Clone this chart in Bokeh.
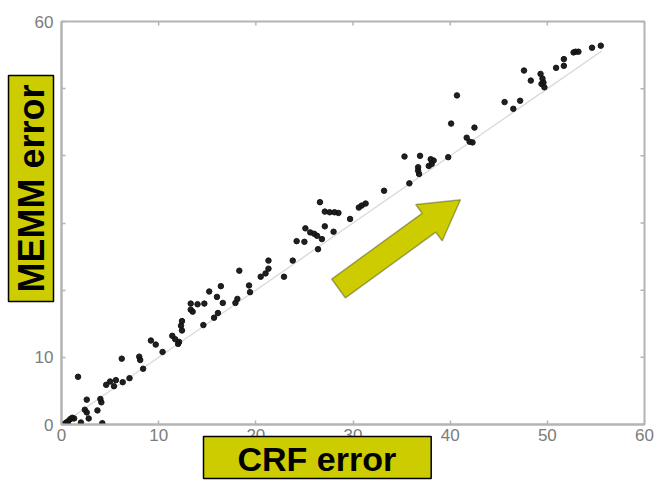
import math
from bokeh.plotting import figure
from bokeh.models import Range1d, Title, PolyAnnotation, FixedTicker
from bokeh.embed import file_html
from bokeh.resources import INLINE

# ---- data ----
crf_err = [0.3, 0.5, 0.7, 0.9, 1.1, 1.3, 0.6,
           2.0, 2.8, 4.2,
           2.4, 2.6, 2.6, 3.7,
           4.0, 4.1,
           1.7,
           4.6, 5.0, 5.4, 5.6, 6.3, 7.0,
           6.2, 8.0, 8.1, 8.4,
           9.2, 9.7, 10.4,
           11.4, 11.7, 12.1, 12.0,
           12.4, 12.3, 12.4,
           13.3, 13.3, 13.5, 14.0, 14.7,
           14.6, 15.7, 16.1,
           15.2, 16.4, 16.0, 16.6,
           17.9, 18.1,
           18.3,
           19.3, 19.4,
           20.5, 21.0, 21.3, 21.3,
           22.9, 23.8,
           24.2, 25.0,
           25.1, 25.6, 26.0, 26.3, 26.8,
           26.4,
           26.6,
           27.1, 27.6, 28.1, 28.5,
           27.1, 28.0,
           29.7,
           30.6, 30.9, 31.3,
           33.2,
           35.8,
           35.3, 36.9,
           36.7, 36.7, 36.8,
           38.0, 38.3, 38.1, 37.8,
           39.8,
           40.1, 40.7,
           42.5,
           41.7, 42.0, 42.3,
           45.6, 46.5, 47.2,
           47.6, 48.3,
           49.3, 49.5, 49.4, 49.7, 49.6,
           50.9, 51.7, 51.7,
           52.7, 53.2, 52.9,
           54.6, 55.5]
memm_err = [0.1, 0.3, 0.5, 0.8, 1.0, 0.9, 0.1,
            0.3, 0.9, 0.2,
            2.2, 1.8, 3.7, 2.1,
            3.8, 3.3,
            7.1,
            5.9, 6.4, 5.7, 6.6, 6.3, 6.9,
            9.8, 10.1, 9.6, 8.3,
            12.5, 11.9, 10.8,
            13.2, 12.7, 12.3, 12.0,
            15.4, 14.7, 14.0,
            18.0, 17.1, 16.8, 17.9, 18.0,
            14.8, 15.9, 16.6,
            19.8, 20.6, 19.0, 18.1,
            18.1, 18.7,
            22.9,
            20.7, 19.7,
            22.0, 22.5, 23.2, 24.4,
            22.0, 24.4,
            27.3, 27.2,
            29.2, 28.6, 28.4, 28.1, 27.6,
            26.1,
            33.1,
            31.7, 31.6, 31.6, 31.5,
            29.5, 28.7,
            30.6,
            32.3, 32.6, 32.9,
            34.8,
            35.9,
            39.9, 40.0,
            38.3, 37.8, 37.3,
            39.5, 39.3, 38.8, 38.5,
            39.8,
            44.8, 49.0,
            44.2,
            42.7, 42.1, 42.0,
            48.0, 47.0, 48.2,
            52.7, 51.2,
            52.2, 51.5, 50.7, 50.2, 50.9,
            53.1, 53.4, 54.4,
            55.4, 55.5, 55.5,
            56.1, 56.4]
diag = [0, 55.6]          # y = x reference line extent
x_ticks = [0, 10, 20, 30, 40, 50, 60]
y_ticks = [0, 10, 20, 30, 40, 50, 60]
x_label = "CRF error"
y_label = "MEMM error"

# ---- styles ----
axis_col = "#b4b4b4"
tick_lbl_col = "#7c7c7c"
yellow = "#cccc00"

p = figure(width=655, height=482, output_backend="svg", toolbar_location=None,
           x_range=Range1d(0, 60), y_range=Range1d(0, 60),
           min_border_left=61, min_border_right=11, min_border_top=21, min_border_bottom=58)
p.grid.visible = False
p.outline_line_color = axis_col
p.outline_line_width = 2
p.background_fill_color = "white"
p.border_fill_color = "white"

for ax, ticks in ((p.xaxis[0], x_ticks), (p.yaxis[0], y_ticks)):
    ax.ticker = FixedTicker(ticks=ticks)
    ax.axis_line_color = axis_col
    ax.axis_line_width = 2
    ax.major_tick_line_color = axis_col
    ax.major_tick_line_width = 1.5
    ax.major_tick_in = 4
    ax.major_tick_out = 0
    ax.minor_tick_line_color = None
    ax.major_label_text_color = tick_lbl_col
    ax.major_label_text_font = "Liberation Sans"
    ax.major_label_text_font_size = "17px"
p.xaxis.major_label_standoff = 4
p.yaxis.major_label_standoff = 8

# ticks on top and right edges of the box
p.ray(x=[60] * len(y_ticks), y=y_ticks, length=4, length_units="screen",
      angle=math.pi, color=axis_col, line_width=1.5)
p.ray(x=x_ticks, y=[60] * len(x_ticks), length=4, length_units="screen",
      angle=-math.pi / 2, color=axis_col, line_width=1.5)

# reference line
p.line(diag, diag, color="#d8d8d8", line_width=1.3)

# points
p.scatter(crf_err, memm_err, size=5.5, color="#141414", alpha=0.95)

# ---- block arrow (screen coords relative to frame bottom-left) ----
tail = (277.0, 136.0)
tip = (399.0, 224.7)
shaft_hw, head_hw, head_len = 11.7, 22.5, 39.0
dx, dy = tip[0] - tail[0], tip[1] - tail[1]
L = math.hypot(dx, dy)
ux, uy = dx / L, dy / L
nx, ny = -uy, ux
neck = (tip[0] - ux * head_len, tip[1] - uy * head_len)
pts = [
    (tail[0] + nx * shaft_hw, tail[1] + ny * shaft_hw),
    (neck[0] + nx * shaft_hw, neck[1] + ny * shaft_hw),
    (neck[0] + nx * head_hw, neck[1] + ny * head_hw),
    tip,
    (neck[0] - nx * head_hw, neck[1] - ny * head_hw),
    (neck[0] - nx * shaft_hw, neck[1] - ny * shaft_hw),
    (tail[0] - nx * shaft_hw, tail[1] - ny * shaft_hw),
]
p.add_layout(PolyAnnotation(xs=[q[0] for q in pts], ys=[q[1] for q in pts],
                            xs_units="screen", ys_units="screen",
                            fill_color=yellow, fill_alpha=1.0,
                            line_color="black", line_width=1.5, level="overlay"))

# ---- axis titles in yellow boxes ----
ytitle = Title(text=y_label, align="left", vertical_align="bottom",
               offset=123, standoff=-44,
               text_font="Liberation Sans", text_font_size="36px",
               text_font_style="bold", text_color="black",
               background_fill_color=yellow, border_line_color="black",
               border_line_width=1.5,
               padding=dict(left=9, right=9, top=2, bottom=2))
p.add_layout(ytitle, "left")

xtitle = Title(text=x_label, align="left", vertical_align="top",
               offset=142, standoff=-14,
               text_font="Liberation Sans", text_font_size="34px",
               text_font_style="bold", text_color="black",
               background_fill_color=yellow, border_line_color="black",
               border_line_width=1.5,
               padding=dict(left=34, right=35, top=3, bottom=1))
p.add_layout(xtitle, "below")

open("out.html", "w").write(file_html(p, INLINE))
